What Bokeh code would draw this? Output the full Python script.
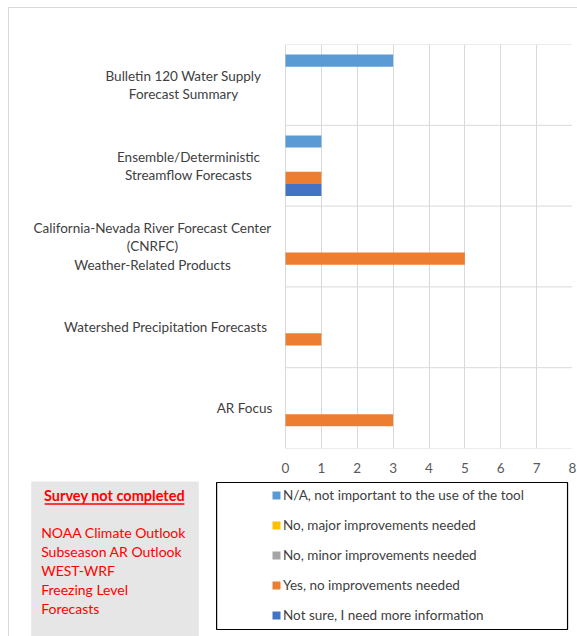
from bokeh.plotting import figure
from bokeh.layouts import column
from bokeh.models import (ColumnDataSource, FactorRange, Range1d, Legend, LegendItem, FixedTicker)
from bokeh.transform import dodge
from bokeh.core.properties import value
from bokeh.embed import file_html
from bokeh.resources import INLINE

# ---------------- data ----------------
categories = [
    "Bulletin 120 Water Supply Forecast Summary",
    "Ensemble/Deterministic Streamflow Forecasts",
    "California-Nevada River Forecast Center (CNRFC) Weather-Related Products",
    "Watershed Precipitation Forecasts",
    "AR Focus",
]
category_labels = [
    "Bulletin 120 Water Supply\nForecast Summary",
    "Ensemble/Deterministic\nStreamflow Forecasts",
    "California-Nevada River Forecast Center\n(CNRFC)\nWeather-Related Products",
    "Watershed Precipitation Forecasts",
    "AR Focus",
]
series_names = [
    "N/A, not important to the use of the tool",
    "No, major improvements needed",
    "No, minor improvements needed",
    "Yes, no improvements needed",
    "Not sure, I need more information",
]
na_values = [3, 1, 0, 0, 0]
major_values = [0, 0, 0, 0, 0]
minor_values = [0, 0, 0, 0, 0]
yes_values = [0, 1, 5, 1, 3]
not_sure_values = [0, 1, 0, 0, 0]
x_ticks = [0, 1, 2, 3, 4, 5, 6, 7, 8]
survey_title = "Survey not completed"
survey_tools = ["NOAA Climate Outlook", "Subseason AR Outlook", "WEST-WRF", "Freezing Level\nForecasts"]

# ---------------- layout / style ----------------
colors = ["#5b9bd5", "#ffc000", "#a5a5a5", "#ed7d31", "#4472c4"]
offsets = [0.3, 0.15, 0.0, -0.15, -0.3]
label_center_px = [-102, -97, -133, -120, -41]   # centre of each label block, px left of the axis
FONT = "Lato"
GRID = "#d9d9d9"
TEXT = "#404040"
W = 577
H1, H2 = 480, 156
FRAME_L, FRAME_R = 285, 572          # canvas px of x=0 and x=8
PX_PER_UNIT = (FRAME_R - FRAME_L) / 8

src = ColumnDataSource(data=dict(cat=categories, na=na_values, major=major_values,
                                 minor=minor_values, yes=yes_values, notsure=not_sure_values,
                                 label=category_labels, xoff=label_center_px))
cols = ["na", "major", "minor", "yes", "notsure"]

# ---------------- bar chart ----------------
p = figure(width=W, height=H1,
           y_range=FactorRange(factors=list(reversed(categories))),
           x_range=Range1d(-FRAME_L / PX_PER_UNIT, 8),
           output_backend="svg", toolbar_location=None,
           min_border_left=0, min_border_right=W - FRAME_R, min_border_top=44, min_border_bottom=32)
p.outline_line_color = None
p.background_fill_alpha = 0
p.border_fill_alpha = 0
p.yaxis.visible = False
p.ygrid.visible = False

# horizontal category separators (category-axis gridlines), x from 0 to 8
p.segment(x0=[0] * 6, x1=[8] * 6, y0=[0, 1, 2, 3, 4, 5], y1=[0, 1, 2, 3, 4, 5],
          line_color=GRID, line_width=1)

renderers = []
for col, off, color in zip(cols, offsets, colors):
    r = p.hbar(y=dodge("cat", off, range=p.y_range), left=0, right=col, height=0.15,
               source=src, fill_color=color, line_color=None)
    renderers.append(r)

p.text(x=0, y="cat", text="label", x_offset="xoff", source=src,
       text_align="center", text_baseline="middle", text_font=value(FONT),
       text_font_size="13.5px", text_color=TEXT, text_line_height=1.14)

p.xaxis.ticker = FixedTicker(ticks=x_ticks)
p.xaxis.axis_line_color = None
p.xaxis.major_tick_line_color = None
p.xaxis.minor_tick_line_color = None
p.xaxis.major_tick_out = 0
p.xaxis.major_label_standoff = 14
p.xaxis.major_label_text_font = FONT
p.xaxis.major_label_text_font_size = "13.5px"
p.xaxis.major_label_text_color = "#595959"

p.xgrid.ticker = FixedTicker(ticks=x_ticks)
p.xgrid.grid_line_color = GRID

# ---------------- notes + legend panel ----------------
q = figure(width=W, height=H2, x_range=Range1d(0, W), y_range=Range1d(H2, 0),
           output_backend="svg", toolbar_location=None,
           min_border_left=0, min_border_right=0, min_border_top=0, min_border_bottom=0)
q.axis.visible = False
q.grid.visible = False
q.outline_line_color = None
q.background_fill_alpha = 0
q.border_fill_alpha = 0

# grey "survey not completed" box
q.quad(left=31, right=200, top=1, bottom=H2 + 2, fill_color="#e7e6e6", line_color=None)
q.text(x=[115], y=[15], text=[survey_title], text_align="center", text_baseline="middle",
       text_font=value(FONT), text_font_size="14.5px", text_font_style="bold", text_color="#ff0000")
q.segment(x0=[44.5], x1=[185.5], y0=[23.5], y1=[23.5], line_color="#ff0000", line_width=1.3)
q.text(x=[41], y=[43], text=["\n".join(survey_tools)], text_align="left", text_baseline="top",
       text_font=value(FONT), text_font_size="14px", text_color="#ff0000", text_line_height=1.12)

# legend frame
q.quad(left=218, right=572, top=2, bottom=149, fill_color="white", line_color="black", line_width=1.2)

# legend swatch proxies (hidden; only their styles are used by the legend)
proxies = []
for color in colors:
    proxies.append(q.hbar(y=[-50], left=[0], right=[1], height=1, fill_color=color,
                          line_color=None, visible=False))

legend = Legend(items=[LegendItem(label=s, renderers=[r]) for s, r in zip(series_names, proxies)],
                location=(271, H2 - 143), orientation="vertical",
                border_line_color=None, background_fill_alpha=0,
                padding=0, margin=0, glyph_width=10, glyph_height=10, label_standoff=2,
                spacing=14, label_height=16,
                label_text_font=FONT, label_text_font_size="13.5px", label_text_color=TEXT)
q.add_layout(legend, "center")

layout = column(p, q, spacing=0, styles={
    "background-color": "white",
    "background-image": "linear-gradient(#d9d9d9, #d9d9d9), linear-gradient(#d9d9d9, #d9d9d9)",
    "background-size": "1px 700px, 700px 1px",
    "background-position": "8px 7px, 8px 7px",
    "background-repeat": "no-repeat",
})
open("out.html", "w").write(file_html(layout, INLINE))
